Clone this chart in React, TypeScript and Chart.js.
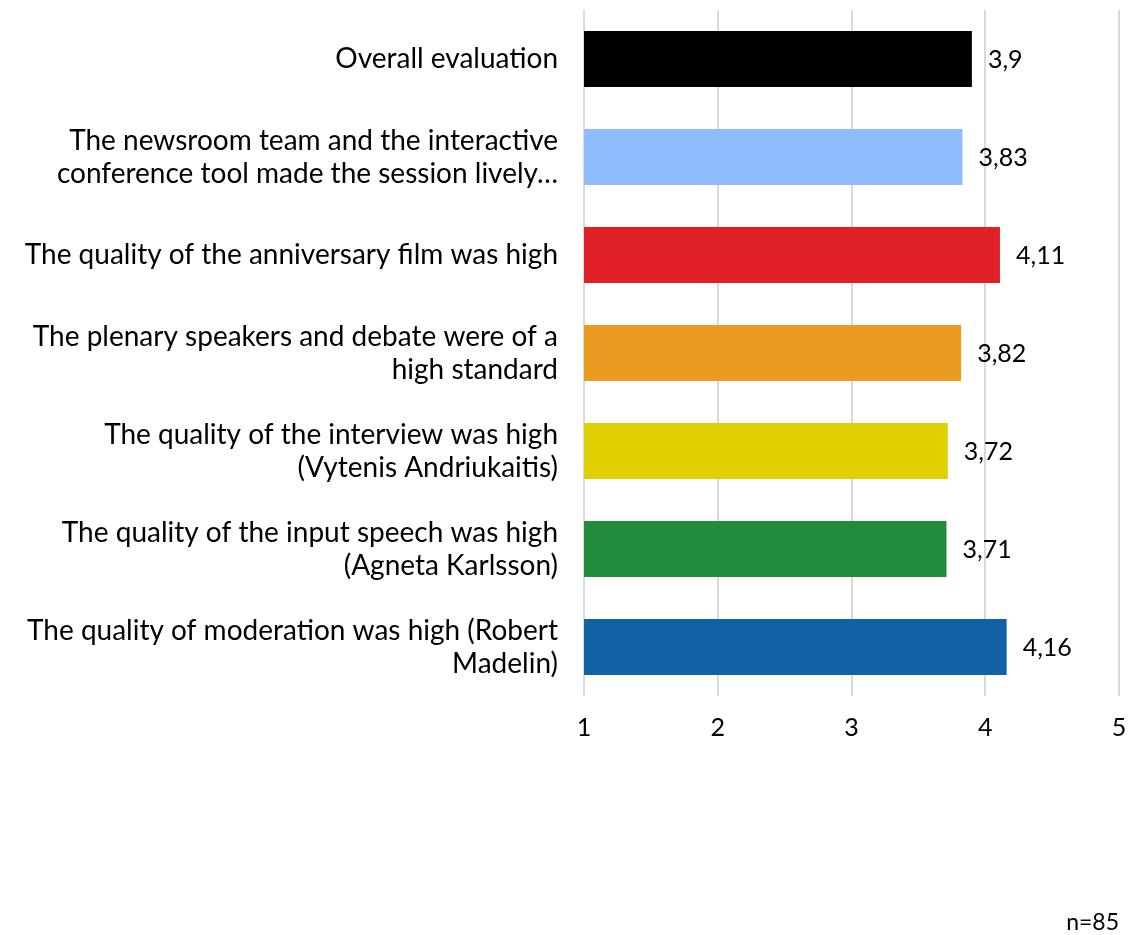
import React, { useEffect, useRef } from "react";
import { Chart, registerables } from "chart.js";

Chart.register(...registerables);

const categories: string[][] = [
  ["Overall evaluation"],
  ["The newsroom team and the interactive", "conference tool made the session lively…"],
  ["The quality of the anniversary film was high"],
  ["The plenary speakers and debate were of a", "high standard"],
  ["The quality of the interview was high", "(Vytenis Andriukaitis)"],
  ["The quality of the input speech was high", "(Agneta Karlsson)"],
  ["The quality of moderation was high (Robert", "Madelin)"],
];
const values: number[] = [3.9, 3.83, 4.11, 3.82, 3.72, 3.71, 4.16];
const barColors: string[] = ["#000000", "#8fbcff", "#e01f26", "#eb9b22", "#e0d002", "#1f8b3b", "#1061a6"];
const xTicks: number[] = [1, 2, 3, 4, 5];
const footnote = "n=85";

const FONT = "Lato, 'Noto Sans', sans-serif";

const valueLabels = {
  id: "valueLabels",
  afterDatasetsDraw(chart: any) {
    const ctx = chart.ctx;
    const meta = chart.getDatasetMeta(0);
    ctx.save();
    ctx.font = `25px ${FONT}`;
    ctx.fillStyle = "#000";
    ctx.textAlign = "left";
    ctx.textBaseline = "middle";
    meta.data.forEach((el: any, i: number) => {
      const txt = String(values[i]).replace(".", ",");
      ctx.fillText(txt, el.x + 16, el.y + 1);
    });
    ctx.restore();
  },
};

const footnotePlugin = {
  id: "footnote",
  afterDraw(chart: any) {
    const ctx = chart.ctx;
    ctx.save();
    ctx.font = `23px ${FONT}`;
    ctx.fillStyle = "#000";
    ctx.textAlign = "right";
    ctx.textBaseline = "middle";
    ctx.fillText(footnote, chart.width - 10, 923);
    ctx.restore();
  },
};

export default function App() {
  const ref = useRef<HTMLCanvasElement>(null);
  useEffect(() => {
    document.body.style.margin = "0";
    if (!ref.current) return;
    const chart = new Chart(ref.current, {
      type: "bar",
      data: {
        labels: categories,
        datasets: [
          {
            data: values,
            backgroundColor: barColors,
            barPercentage: 0.571,
            categoryPercentage: 1,
          },
        ],
      },
      options: {
        indexAxis: "y",
        animation: false,
        responsive: false,
        maintainAspectRatio: false,
        layout: { padding: { top: 10, right: 10, left: 0, bottom: 0 } },
        plugins: { legend: { display: false }, tooltip: { enabled: false } },
        scales: {
          x: {
            min: 1,
            max: 5,
            afterBuildTicks: (scale: any) => {
              scale.ticks = xTicks.map((v) => ({ value: v }));
            },
            afterFit: (scale: any) => {
              scale.height = 935 - 10 - 686;
              scale.paddingLeft = 0;
              scale.paddingRight = 0;
            },
            grid: { color: "#d9d9d9", lineWidth: 2, drawTicks: false },
            border: { display: false },
            ticks: { padding: 17, color: "#000", font: { family: FONT, size: 25 } },
          },
          y: {
            afterFit: (scale: any) => {
              scale.width = 584;
              scale.paddingTop = 0;
              scale.paddingBottom = 0;
            },
            grid: { display: false, drawTicks: false },
            border: { display: false },
            ticks: { padding: 26, color: "#000", font: { family: FONT, size: 28, lineHeight: 1.18 } },
          },
        },
      },
      plugins: [valueLabels, footnotePlugin],
    });
    return () => chart.destroy();
  }, []);
  return <canvas ref={ref} width={1129} height={935} style={{ display: "block" }} />;
}
